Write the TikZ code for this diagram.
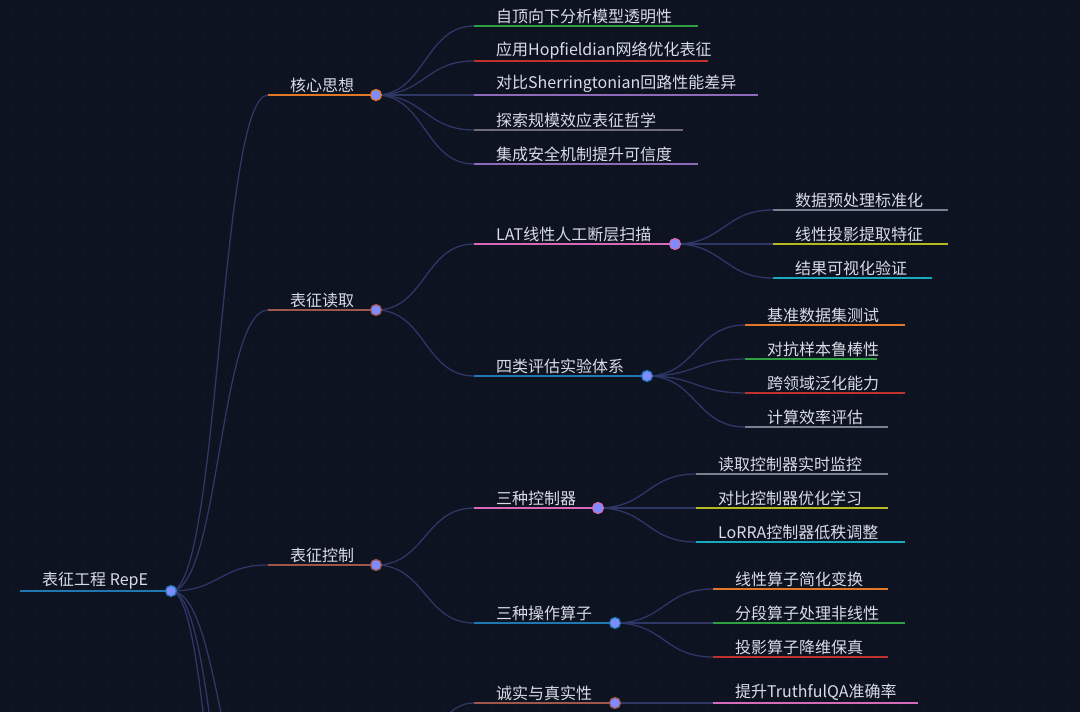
\documentclass[tikz,border=0pt]{standalone}
\usepackage{fontspec}
\setmainfont{Noto Sans CJK SC}
\usepackage{tikz}
\usetikzlibrary{calc}

\definecolor{bgc}{HTML}{0D1320}
\definecolor{edgec}{HTML}{2E3766}
\definecolor{txtc}{HTML}{D8DCE6}
\definecolor{dotc}{HTML}{7F8CFF}
\definecolor{cBlue}{HTML}{1F78B4}
\definecolor{cOrange}{HTML}{E0782A}
\definecolor{cBrown}{HTML}{A0574A}
\definecolor{cGreen}{HTML}{2EA043}
\definecolor{cRed}{HTML}{C0302C}
\definecolor{cPurple}{HTML}{8E6BB8}
\definecolor{cGrey}{HTML}{6E6A78}
\definecolor{cPink}{HTML}{D868B8}
\definecolor{cYellow}{HTML}{B8B820}
\definecolor{cCyan}{HTML}{17A9C0}
\definecolor{cGreyB}{HTML}{7A8090}

\tikzset{
  lbl/.style={text=txtc, inner sep=0pt, anchor=south west, font=\fontsize{16}{18}\selectfont},
  uline/.style={line width=1.6pt},
  knot/.style={circle, draw, line width=1.2pt, fill=dotc, minimum size=11pt, inner sep=0pt},
  link/.style={edgec, line width=1.3pt},
}

% curve from a dot to the start of a child line
\newcommand{\linkto}[2]{%
  \draw[link] let \p1=(#1), \p2=(#2) in
    (\p1) .. controls ({(\x1+\x2)/2},\y1) and ({(\x1+\x2)/2},\y2) .. (\p2);}

\begin{document}
\begin{tikzpicture}[x=1pt, y=-1pt]
\clip (0,0) rectangle (1080,712);
\fill[bgc] (0,0) rectangle (1080,712);
\foreach \gx in {12,36,...,1080}
  \foreach \gy in {12,36,...,712}
    \fill[white!18!bgc] (\gx,\gy) circle (0.5pt);

% root
\draw[uline, cBlue] (20,591) -- (171,591);
\node[lbl] (root) at (42,589) {表征工程 RepE};
\coordinate (rootk) at (171,591);

% first level
\foreach \nm/\y/\col/\txt in {hx/95/cOrange/核心思想, dq/310/cBrown/表征读取, kz/565/cBrown/表征控制}{
  \coordinate (\nm s) at (268,\y);
  \draw[uline, \col] (\nm s) -- (376,\y);
  \node[lbl] (\nm) at (290,\y-2) {\txt};
  \coordinate (\nm k) at (376,\y);
  \linkto{rootk}{\nm s}
}
% branches below the frame
\coordinate (rx1) at (268,820);
\coordinate (rx2) at (268,1000);
\coordinate (rx3) at (268,1200);
\linkto{rootk}{rx1}
\linkto{rootk}{rx2}
\linkto{rootk}{rx3}
\coordinate (csp) at (376,800);

% second level
\foreach \pn/\nm/\y/\xe/\col/\txt in {
  hxk/a1/26/698/cGreen/自顶向下分析模型透明性,
  hxk/a2/61/708/cRed/应用Hopfieldian网络优化表征,
  hxk/a3/95/758/cPurple/对比Sherringtonian回路性能差异,
  hxk/a4/130/683/cGrey/探索规模效应表征哲学,
  hxk/a5/164/698/cPurple/集成安全机制提升可信度,
  dqk/lat/244/675/cPink/LAT线性人工断层扫描,
  dqk/pg/376/647/cBlue/四类评估实验体系,
  kzk/kzq/508/598/cPink/三种控制器,
  kzk/sz/623/615/cBlue/三种操作算子,
  csp/cs/703/615/cBrown/诚实与真实性}{
  \coordinate (\nm s) at (474,\y);
  \draw[uline, \col] (\nm s) -- (\xe,\y);
  \node[lbl] (\nm) at (496,\y-2) {\txt};
  \coordinate (\nm k) at (\xe,\y);
  \linkto{\pn}{\nm s}
}

% third level
\foreach \pn/\xs/\y/\xe/\col/\txt in {
  latk/773/210/948/cGreyB/数据预处理标准化,
  latk/773/244/948/cYellow/线性投影提取特征,
  latk/773/278/932/cCyan/结果可视化验证,
  pgk/745/325/905/cOrange/基准数据集测试,
  pgk/745/359/877/cGreen/对抗样本鲁棒性,
  pgk/745/393/905/cRed/跨领域泛化能力,
  pgk/745/427/888/cGreyB/计算效率评估,
  kzqk/696/474/888/cGreyB/读取控制器实时监控,
  kzqk/696/508/888/cYellow/对比控制器优化学习,
  kzqk/696/542/905/cCyan/LoRRA控制器低秩调整,
  szk/713/589/888/cOrange/线性算子简化变换,
  szk/713/623/905/cGreen/分段算子处理非线性,
  szk/713/657/888/cRed/投影算子降维保真,
  csk/713/703/918/cPink/提升TruthfulQA准确率}{
  \coordinate (t) at (\xs,\y);
  \draw[uline, \col] (t) -- (\xe,\y);
  \node[lbl] at (\xs+22,\y-2) {\txt};
  \linkto{\pn}{t}
}

% dots on top
\node[knot, draw=cBlue] at (rootk) {};
\node[knot, draw=cOrange] at (hxk) {};
\node[knot, draw=cBrown] at (dqk) {};
\node[knot, draw=cBrown] at (kzk) {};
\node[knot, draw=cPink] at (latk) {};
\node[knot, draw=cBlue] at (pgk) {};
\node[knot, draw=cPink] at (kzqk) {};
\node[knot, draw=cBlue] at (szk) {};
\node[knot, draw=cBrown] at (csk) {};
\end{tikzpicture}
\end{document}
